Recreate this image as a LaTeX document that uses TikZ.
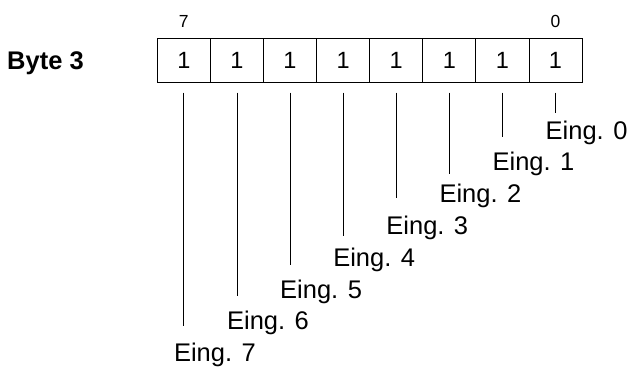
\documentclass[tikz,border=0pt]{standalone}
\usepackage{fontspec}
\setmainfont{Liberation Sans}
\usepackage{tikz}

\begin{document}
\begin{tikzpicture}[x=1pt,y=-1pt,
    bit/.style={draw,line width=0.8pt,minimum width=53.1pt,minimum height=44pt,inner sep=0pt,font=\fontsize{23.5}{28}\selectfont},
    input/.style={anchor=base west,inner sep=0pt,font=\fontsize{25.5}{30}\selectfont},
    index/.style={anchor=base,inner sep=0pt,font=\fontsize{17.5}{21}\selectfont}]
    \useasboundingbox (0,0) rectangle (628,367);
    \node[anchor=base west,inner sep=0pt,font=\bfseries\fontsize{25.5}{30}\selectfont] (byte) at (7,69.5) {Byte 3};
    \foreach \i in {0,...,7}
      \node[bit] (c\i) at ({555.5-53.1*\i},60.3) {1};
    \node[index] (top7) at ([yshift=10pt]c7.north) {7};
    \node[index] (top0) at ([yshift=10pt]c0.north) {0};
    \foreach \i/\e in {0/113,1/137,2/174,3/198,4/236,5/265,6/296,7/326} {
      \coordinate (t\i) at (c\i.center |- 0,\e);
      \node[input] (e\i) at ({555.5-53.1*\i-10},{139+31.8*\i}) {Eing. \i};
      \draw[line width=0.8pt] ([yshift=-10pt]c\i.south) -- (t\i);
    }
\end{tikzpicture}
\end{document}
